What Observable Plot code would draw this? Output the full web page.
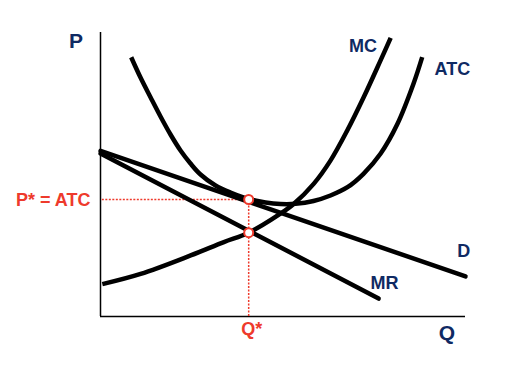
<!DOCTYPE html>
<html>
<head>
<meta charset="utf-8">
<script src="https://cdn.jsdelivr.net/npm/d3@7"></script>
<script src="https://cdn.jsdelivr.net/npm/@observablehq/plot@0.6"></script>
<style>
  html, body { margin: 0; padding: 0; background: #fff; }
  #chart { width: 509px; height: 368px; }
</style>
</head>
<body>
<div id="chart"></div>
<script>
// Equilibrium values
const qStar = 40.6;
const pStar = 41.2;
const mcAtQStar = 29.5;

// Demand (D)
const demandQ = [0, 100];
const demandP = [58.3, 14.1];

// Marginal revenue (MR)
const mrQ = [0, 76.2];
const mrP = [57.4, 6.3];

// Marginal cost (MC)
const mcQ = [0.5, 11.0, 24.7, 33.8, 40.6, 49.3, 53.0, 58.4, 63.0, 67.6, 72.1, 76.7, 79.5];
const mcP = [11.4, 15.0, 21.5, 26.2, 29.5, 36.2, 39.7, 46.7, 54.9, 65.5, 77.2, 90.1, 98.1];

// Average total cost (ATC)
const atcQ = [8.41, 10.96, 13.70, 16.44, 19.18, 21.92, 24.66, 27.40, 31.51, 35.62, 40.55, 45.21, 49.32, 53.42, 58.36, 63.01, 67.67, 72.05, 76.71, 81.37, 85.75, 88.14];
const atcP = [91.30, 84.15, 77.22, 70.42, 64.08, 58.45, 53.87, 50.00, 46.13, 43.66, 41.37, 40.14, 39.61, 39.68, 40.67, 42.61, 45.53, 50.25, 57.29, 67.85, 81.94, 91.30];

// Curve labels
const curveLabels = ["MC", "ATC", "D", "MR"];
const curveLabelQ = [71.9, 96.4, 99.5, 77.8];
const curveLabelP = [95.2, 87.1, 22.9, 11.8];

// Axis titles
const axisTitles = ["P", "Q"];
const axisTitleQ = [-6.7, 94.9];
const axisTitleP = [97.0, -5.8];

const navy = "#0f2a63";
const red = "#ee3a2c";

const toRows = (xs, ys) => xs.map((x, i) => ({x, y: ys[i]}));

const chart = Plot.plot({
  width: 509,
  height: 368,
  marginLeft: 100,
  marginRight: 44,
  marginTop: 32,
  marginBottom: 52,
  x: {domain: [0, 100], axis: null},
  y: {domain: [0, 100], axis: null},
  style: {fontFamily: "Liberation Sans, Arial, sans-serif", background: "#fff"},
  marks: [
    // axes
    Plot.ruleX([0], {y1: 0, y2: 100, stroke: "#000", strokeWidth: 1.5}),
    Plot.ruleY([0], {x1: 0, x2: 100, stroke: "#000", strokeWidth: 1.5}),
    // dotted guides
    Plot.ruleY([pStar], {x1: 0.5, x2: qStar, stroke: red, strokeWidth: 1.5, strokeDasharray: "2,1.5"}),
    Plot.ruleX([qStar], {y1: 0, y2: pStar, stroke: red, strokeWidth: 1.5, strokeDasharray: "2,1.5"}),
    // curves
    Plot.line(toRows(demandQ, demandP), {x: "x", y: "y", stroke: "#000", strokeWidth: 4.5}),
    Plot.line(toRows(mrQ, mrP), {x: "x", y: "y", stroke: "#000", strokeWidth: 4.5}),
    Plot.line(toRows(mcQ, mcP), {x: "x", y: "y", stroke: "#000", strokeWidth: 4.5, curve: "catmull-rom", strokeLinecap: "butt"}),
    Plot.line(toRows(atcQ, atcP), {x: "x", y: "y", stroke: "#000", strokeWidth: 4.5, curve: "catmull-rom", strokeLinecap: "butt"}),
    // equilibrium points
    Plot.dot([{x: qStar, y: pStar}, {x: qStar, y: mcAtQStar}], {x: "x", y: "y", r: 4.5, fill: "#fff", stroke: red, strokeWidth: 2}),
    // labels
    Plot.text(curveLabels, {x: (d, i) => curveLabelQ[i], y: (d, i) => curveLabelP[i], text: d => d, fill: navy, fontSize: 18, fontWeight: "bold"}),
    Plot.text(axisTitles, {x: (d, i) => axisTitleQ[i], y: (d, i) => axisTitleP[i], text: d => d, fill: navy, fontSize: 21, fontWeight: "bold"}),
    Plot.text(["P* = ATC"], {x: 0, y: pStar, text: d => d, textAnchor: "end", dx: -10, dy: 1, fill: red, fontSize: 18, fontWeight: "bold"}),
    Plot.text(["Q*"], {x: qStar, y: 0, text: d => d, dx: 3, dy: 13, fill: red, fontSize: 18, fontWeight: "bold"})
  ]
});
document.getElementById("chart").appendChild(chart);
</script>
</body>
</html>
